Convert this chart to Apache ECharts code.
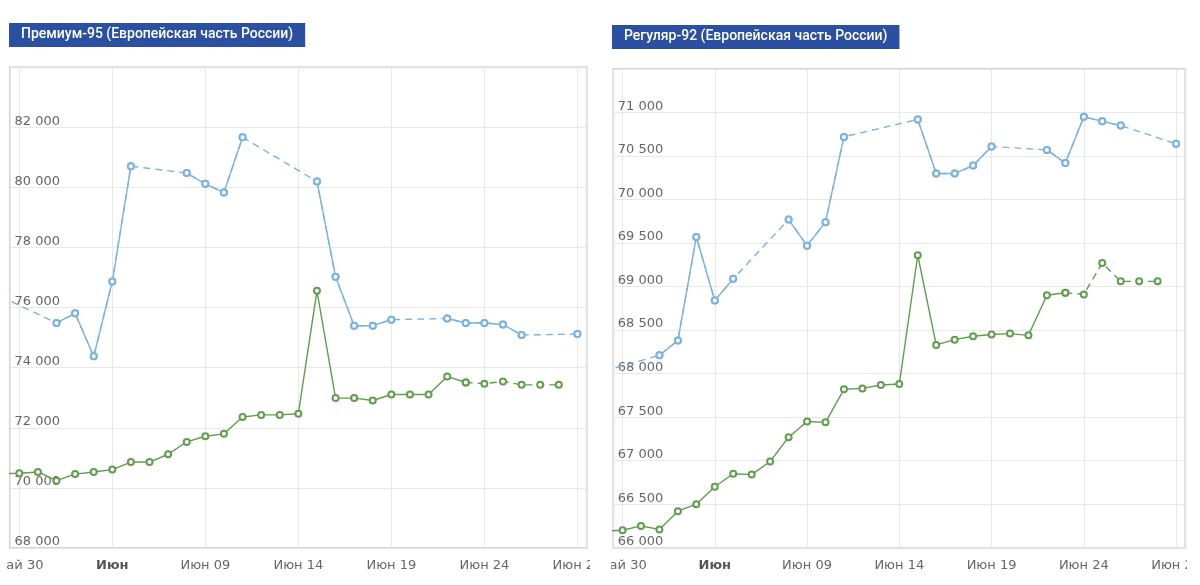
<!DOCTYPE html>
<html>
<head>
<meta charset="utf-8">
<script src="https://cdn.jsdelivr.net/npm/echarts@6/dist/echarts.min.js"></script>
<style>
  html, body { margin: 0; padding: 0; background: #fff; }
  .chart { position: absolute; top: 0; height: 585px; }
</style>
</head>
<body>
<div id="premium" class="chart" style="left:7px;width:583px;"></div>
<div id="regular" class="chart" style="left:611px;width:576px;"></div>
<script>
// дни относительно 30 мая (-1 = 29 мая)
const days = [-1, 0, 1, 2, 3, 4, 5, 6, 7, 8, 9, 10, 11, 12, 13, 14, 15,
  16, 17, 18, 19, 20, 21, 22, 23, 24, 25, 26, 27, 28, 29, 30];
const xTickLabels = ['Май 30', 'Июн', 'Июн 09', 'Июн 14', 'Июн 19', 'Июн 24', 'Июн 29'];

// Премиум-95
const premBlue = [76370, null, null, 75490, 75810, 74380, 76870, 80710, null, null,
  80480, 80120, 79830, 81670, null, null, null, 80200, 77030, 75400, 75400, 75600,
  null, null, 75640, 75490, 75490, 75440, 75090, null, null, 75120];
const premGreen = [70470, 70490, 70530, 70240, 70460, 70530, 70610, 70860, 70860, 71120,
  71530, 71720, 71800, 72360, 72430, 72430, 72470, 76560, 72990, 72990, 72910, 73110,
  73110, 73110, 73710, 73510, 73470, 73540, 73430, 73430, 73430, null];

// Регуляр-92
const regBlue = [68030, null, null, 68210, 68380, 69570, 68840, 69090, null, null,
  69770, 69470, 69740, 70720, null, null, null, 70920, 70300, 70300, 70390, 70610,
  null, null, 70570, 70420, 70950, 70900, 70850, null, null, 70640];
const regGreen = [66190, 66200, 66250, 66210, 66420, 66500, 66700, 66850, 66840, 66990,
  67270, 67450, 67440, 67820, 67830, 67870, 67880, 69360, 68330, 68390, 68430, 68450,
  68460, 68440, 68900, 68930, 68910, 69270, 69060, 69060, 69060, null];

const greenDashFrom = 24; // зелёная линия пунктиром начиная с этого дня

const BLUE = '#7ab3df';
const GREEN = '#5e9e4c';
const LABEL = '#666666';

const fmtThousands = v => {
  const k = Math.floor(v / 1000);
  const r = String(v % 1000).padStart(3, '0');
  return k + ' ' + r;
};

function pairs(vals, keep) {
  return days.map((d, i) => (vals[i] == null || (keep && !keep(d))) ? [d, null] : [d, vals[i]]);
}

const marker = color => ({
  symbol: 'circle',
  symbolSize: 6,
  showAllSymbol: true,
  itemStyle: { color: '#fff', borderColor: color, borderWidth: 2 },
});

function lineSeries(vals, color, solidKeep, dashKeep) {
  return [
    // пунктир — под сплошной линией, соединяет через пропуски
    Object.assign({
      type: 'line',
      data: pairs(vals, dashKeep).filter(p => p[1] != null),
      connectNulls: true,
      lineStyle: { color, width: 1.4, type: [7, 5] },
      animation: false,
      z: 2,
    }, marker(color)),
    Object.assign({
      type: 'line',
      data: pairs(vals, solidKeep),
      connectNulls: false,
      lineStyle: { color, width: 1.4 },
      animation: false,
      z: 3,
    }, marker(color)),
  ];
}

function buildOption(title, titleLeft, titleTop, grid, yMin, yMax, yStep, blue, green) {
  return {
    backgroundColor: '#fff',
    title: {
      text: title,
      left: titleLeft,
      top: titleTop,
      backgroundColor: '#2b4fa1',
      padding: [3, 12, 4, 12],
      textStyle: { color: '#fff', fontFamily: 'Roboto', fontWeight: 500, fontSize: 14, lineHeight: 17 },
    },
    grid: Object.assign({
      show: true,
      borderColor: '#d3d3d3',
      borderWidth: 2,
      backgroundColor: 'transparent',
      containLabel: false,
      outerBoundsMode: 'none',
    }, grid),
    xAxis: {
      type: 'value',
      min: -0.5,
      max: 30.5,
      axisLine: { show: false },
      axisTick: { show: false },
      splitLine: { show: true, lineStyle: { color: '#e8e8e8', width: 1 } },
      axisLabel: {
        margin: 11,
        color: LABEL,
        fontFamily: 'DejaVu Sans',
        fontSize: 13,
        hideOverlap: false,
        formatter: v => {
          if (v % 5 !== 0) return '';
          const t = xTickLabels[v / 5];
          return t === 'Июн' ? '{b|' + t + '}' : t;
        },
        rich: { b: { fontWeight: 'bold', color: '#555', fontFamily: 'DejaVu Sans', fontSize: 13 } },
      },
    },
    yAxis: {
      type: 'value',
      min: yMin,
      max: yMax,
      interval: yStep,
      axisLine: { show: false },
      axisTick: { show: false },
      splitLine: { lineStyle: { color: '#e8e8e8', width: 1 } },
      axisLabel: {
        inside: true,
        margin: 4.5,
        verticalAlign: 'bottom',
        lineHeight: 12,
        color: LABEL,
        fontFamily: 'DejaVu Sans',
        fontSize: 13,
        showMaxLabel: false,
        formatter: fmtThousands,
      },
      z: 0,
    },
    series: [
      ...lineSeries(blue, BLUE, null, null),
      ...lineSeries(green, GREEN, d => d <= greenDashFrom, d => d >= greenDashFrom),
    ],
  };
}

const c1 = echarts.init(document.getElementById('premium'));
c1.setOption(buildOption('Премиум-95 (Европейская часть России)', 2, 23,
  { left: 3, right: 3.3, top: 67.3, bottom: 37 }, 68000, 84000, 2000, premBlue, premGreen));

const c2 = echarts.init(document.getElementById('regular'));
c2.setOption(buildOption('Регуляр-92 (Европейская часть России)', 1, 25,
  { left: 2.3, right: 1.7, top: 69, bottom: 37.3 }, 66000, 71500, 500, regBlue, regGreen));
</script>
</body>
</html>
